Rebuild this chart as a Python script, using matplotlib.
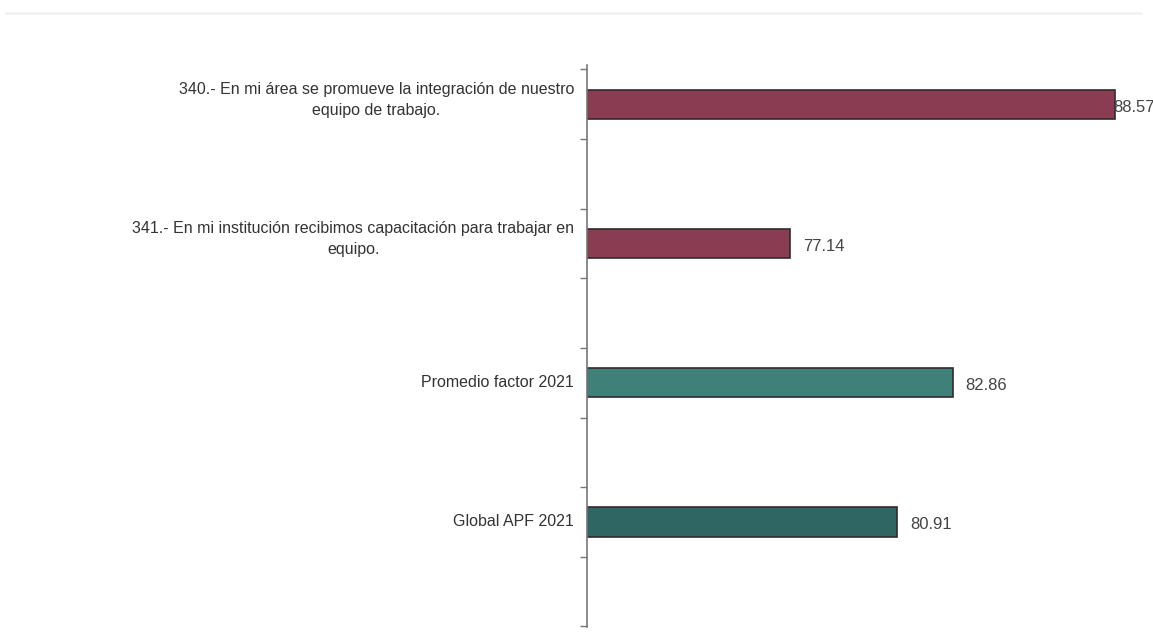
import matplotlib
matplotlib.use("Agg")
import matplotlib.pyplot as plt
import numpy as np

plt.rcParams['font.family'] = ['Liberation Sans', 'DejaVu Sans']

# Data
labels = [
    "340.- En mi área se promueve la integración de nuestro\nequipo de trabajo.",
    "341.- En mi institución recibimos capacitación para trabajar en\nequipo.",
    "Promedio factor 2021",
    "Global APF 2021",
]
values = [88.57, 77.14, 82.86, 80.91]
value_labels = ["88.57", "77.14", "82.86", "80.91"]
bar_colors = ["#8a3c52", "#8a3c52", "#3f8078", "#2f6562"]

fig = plt.figure(figsize=(11.53, 6.34), dpi=100)
ax = fig.add_axes([0.509, 0.011, 0.491, 0.886])

x_min = 70
y = np.arange(len(values))
ax.barh(y, np.array(values) - x_min, left=x_min, height=0.21,
        color=bar_colors, edgecolor="#33292c", linewidth=1.2)

ax.set_xlim(x_min, 89.9)
ax.set_ylim(3.754, -0.28)

# value labels next to each bar; the first one sits on the bar end
for i, (v, txt) in enumerate(zip(values, value_labels)):
    xpos = v + 0.45 if i > 0 else v - 0.05
    ax.text(xpos, i + 0.02, txt, va="center", ha="left",
            fontsize=12, color="#444444", clip_on=False)

# category labels, centred block right-aligned against the axis
for i, lab in enumerate(labels):
    shift = 4 if "\n" in lab else 0
    fig.text(0.498, 1 - (104 + 139.3 * i - shift) / 634, lab,
             ha="right", va="center", multialignment="center",
             fontsize=11.5, color="#333333", linespacing=1.5)

ax.set_yticks(np.arange(-0.25, 4.0, 0.5))
ax.set_yticklabels([])
ax.tick_params(axis="y", direction="out", length=5, color="#777777", width=1)
ax.set_xticks([])
for side in ["top", "right", "bottom"]:
    ax.spines[side].set_visible(False)
ax.spines["left"].set_color("#777777")
ax.spines["left"].set_linewidth(1.2)

# faint line across the top of the page
fig.add_artist(plt.Line2D([0.005, 0.99], [1 - 13 / 634, 1 - 13 / 634],
                          color="#f2f2f2", linewidth=2))

fig.savefig("out.png", dpi=100)
